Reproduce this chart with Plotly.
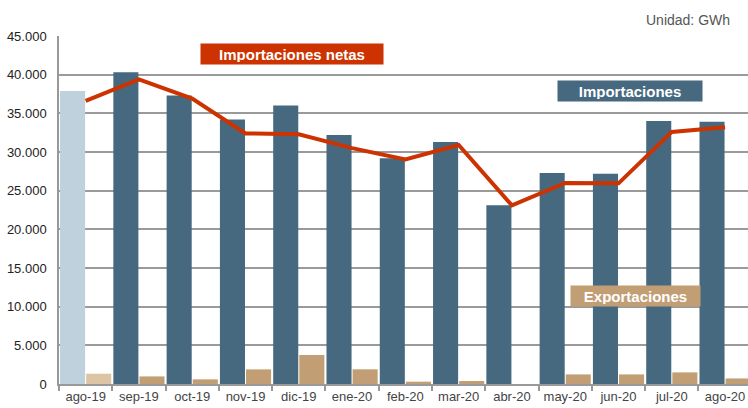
import plotly.graph_objects as go

meses = ["ago-19", "sep-19", "oct-19", "nov-19", "dic-19", "ene-20", "feb-20",
         "mar-20", "abr-20", "may-20", "jun-20", "jul-20", "ago-20"]
importaciones = [37900, 40300, 37300, 34200, 36000, 32200, 29200,
                 31300, 23100, 27300, 27200, 34000, 33900]
exportaciones = [1330, 980, 600, 1890, 3750, 1900, 300,
                 390, 0, 1240, 1240, 1500, 720]
importaciones_netas = [36600, 39400, 36900, 32400, 32300, 30500, 29050,
                       30900, 23100, 26000, 25950, 32600, 33200]

C_IMP = "#46697f"
C_IMP_L = "#bfd1dd"
C_EXP = "#c19e74"
C_EXP_L = "#dcc4a5"
C_NET = "#cc3300"

fig = go.Figure()
fig.add_trace(go.Bar(x=meses, y=importaciones, name="Importaciones",
                     marker=dict(color=[C_IMP_L] + [C_IMP] * (len(meses) - 1), line_width=0)))
fig.add_trace(go.Bar(x=meses, y=exportaciones, name="Exportaciones",
                     marker=dict(color=[C_EXP_L] + [C_EXP] * (len(meses) - 1), line_width=0)))
fig.add_trace(go.Scatter(x=meses, y=importaciones_netas, name="Importaciones netas",
                         mode="lines", line=dict(color=C_NET, width=4)))

font = "Liberation Sans, Arial, sans-serif"
fig.update_layout(
    width=748, height=408,
    margin=dict(l=59, r=0, t=36, b=24),
    paper_bgcolor="white", plot_bgcolor="white",
    barmode="group", bargap=0.02, bargroupgap=0.04,
    showlegend=False,
    separators=",.",
    font=dict(family=font, size=13, color="#222"),
    xaxis=dict(range=[-0.5, 12.43], showgrid=False, showline=True, linecolor="#999",
               linewidth=1.5, ticks="outside", tickson="boundaries", ticklen=5,
               tickcolor="#999", tickwidth=1.5, tickfont=dict(size=13, color="#444")),
    yaxis=dict(range=[0, 45000], dtick=5000, tickformat=",d", showgrid=True,
               gridcolor="#9a9a9a", gridwidth=1.5, showline=True, linecolor="#999",
               linewidth=1.5, zeroline=False, tickfont=dict(size=13, color="#222"),
               ticks="", ticklabelstandoff=8),
)

def box(text, cx, cy, bg, w):
    fig.add_annotation(xref="paper", yref="paper",
                       x=(cx - 59) / 689, y=(384 - cy) / 348,
                       xanchor="center", yanchor="middle",
                       text="<b>" + text + "</b>", showarrow=False,
                       font=dict(family=font, size=15, color="white"),
                       bgcolor=bg, width=w, height=16, borderpad=2)

box("Importaciones netas", 292, 54, C_NET, 178)
box("Importaciones", 630, 91, C_IMP, 140)
box("Exportaciones", 635.5, 296, C_EXP, 125)

fig.add_annotation(xref="paper", yref="paper", x=(732 - 59) / 689, y=(384 - 20) / 348,
                   xanchor="right", yanchor="middle", text="Unidad: GWh", showarrow=False,
                   font=dict(family=font, size=14, color="#555"))

fig.write_html("out.html", config={"displayModeBar": False},
               post_script="document.body.style.margin='0';document.body.style.overflow='hidden';")
